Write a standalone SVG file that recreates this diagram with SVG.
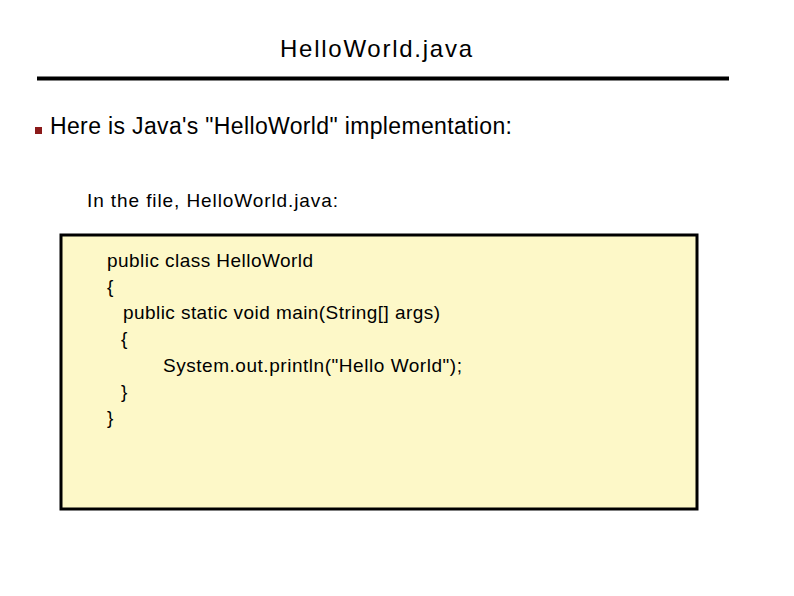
<svg xmlns="http://www.w3.org/2000/svg" width="794" height="596" viewBox="0 0 794 596">
<style>text{font-family:"Liberation Sans",Arial,sans-serif;fill:#000}.c{font-size:19px}</style>
<rect width="794" height="596" fill="#fff"/>
<g id="title"><text x="280" y="57" font-size="24" textLength="192" lengthAdjust="spacing">HelloWorld.java</text>
<line x1="37" y1="78.5" x2="729" y2="78.5" stroke="#000" stroke-width="4"/></g>
<g id="bullet"><rect x="35" y="127" width="7" height="7" fill="#8b1a1a"/>
<text x="50" y="134" font-size="23" textLength="462" lengthAdjust="spacing">Here is Java's "HelloWorld" implementation:</text></g>
<text x="87" y="207" font-size="19" textLength="251" lengthAdjust="spacing">In the file, HelloWorld.java:</text>
<g id="code"><rect x="61" y="235" width="636" height="274" fill="#fdf8c8" stroke="#000" stroke-width="3"/>
<text class="c" x="107" y="267" textLength="206" lengthAdjust="spacing">public class HelloWorld</text>
<text class="c" x="107" y="293">{</text>
<text class="c" x="123" y="319" textLength="317" lengthAdjust="spacing">public static void main(String[] args)</text>
<text class="c" x="121" y="345">{</text>
<text class="c" x="163" y="372" textLength="299" lengthAdjust="spacing">System.out.println("Hello World");</text>
<text class="c" x="121" y="398">}</text>
<text class="c" x="107" y="424">}</text></g>
</svg>
